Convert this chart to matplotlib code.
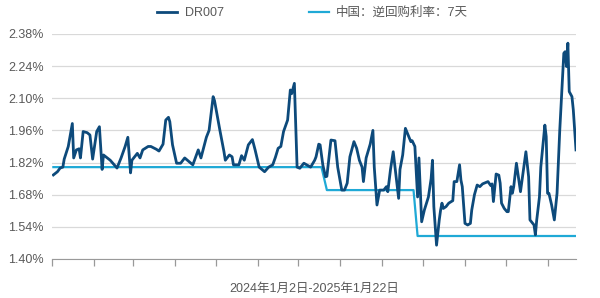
import matplotlib
matplotlib.use("Agg")
import matplotlib.pyplot as plt
import matplotlib.dates as mdates
import pandas as pd

plt.rcParams['font.family'] = ['Liberation Sans', 'Noto Sans CJK SC', 'DejaVu Sans']

# DR007
dr_dates = [
    "2024-01-02", "2024-01-05", "2024-01-07", "2024-01-09", "2024-01-10", "2024-01-13",
    "2024-01-16", "2024-01-17", "2024-01-19", "2024-01-21", "2024-01-22", "2024-01-24",
    "2024-01-27", "2024-01-29", "2024-01-31", "2024-02-03", "2024-02-05", "2024-02-07",
    "2024-02-08", "2024-02-13", "2024-02-18", "2024-02-21", "2024-02-24", "2024-02-26",
    "2024-02-28", "2024-02-29", "2024-03-04", "2024-03-06", "2024-03-08", "2024-03-12",
    "2024-03-14", "2024-03-18", "2024-03-20", "2024-03-23", "2024-03-25", "2024-03-27",
    "2024-03-28", "2024-03-30", "2024-04-02", "2024-04-05", "2024-04-08", "2024-04-10",
    "2024-04-14", "2024-04-18", "2024-04-20", "2024-04-24", "2024-04-26", "2024-04-29",
    "2024-04-30", "2024-05-04", "2024-05-07", "2024-05-08", "2024-05-11", "2024-05-13",
    "2024-05-14", "2024-05-18", "2024-05-20", "2024-05-22", "2024-05-25", "2024-05-28",
    "2024-05-30", "2024-06-02", "2024-06-06", "2024-06-09", "2024-06-12", "2024-06-14",
    "2024-06-16", "2024-06-18", "2024-06-20", "2024-06-23", "2024-06-25", "2024-06-26",
    "2024-06-28", "2024-06-30", "2024-07-02", "2024-07-05", "2024-07-07", "2024-07-10",
    "2024-07-13", "2024-07-14", "2024-07-16", "2024-07-17", "2024-07-19", "2024-07-21",
    "2024-07-22", "2024-07-25", "2024-07-28", "2024-07-30", "2024-08-02", "2024-08-04",
    "2024-08-06", "2024-08-08", "2024-08-11", "2024-08-13", "2024-08-15", "2024-08-17",
    "2024-08-18", "2024-08-20", "2024-08-23", "2024-08-25", "2024-08-26", "2024-08-28",
    "2024-08-30", "2024-09-02", "2024-09-04", "2024-09-05", "2024-09-07", "2024-09-09",
    "2024-09-10", "2024-09-13", "2024-09-14", "2024-09-16", "2024-09-18", "2024-09-20",
    "2024-09-22", "2024-09-23", "2024-09-25", "2024-09-27", "2024-09-28", "2024-09-30",
    "2024-10-02", "2024-10-05", "2024-10-07", "2024-10-08", "2024-10-09", "2024-10-11",
    "2024-10-13", "2024-10-14", "2024-10-15", "2024-10-16", "2024-10-18", "2024-10-20",
    "2024-10-23", "2024-10-24", "2024-10-26", "2024-10-28", "2024-10-29", "2024-10-30",
    "2024-11-01", "2024-11-03", "2024-11-05", "2024-11-06", "2024-11-08", "2024-11-10",
    "2024-11-12", "2024-11-14", "2024-11-18", "2024-11-20", "2024-11-21", "2024-11-22",
    "2024-11-24", "2024-11-26", "2024-11-27", "2024-11-28", "2024-11-30", "2024-12-02",
    "2024-12-03", "2024-12-05", "2024-12-06", "2024-12-07", "2024-12-09", "2024-12-12",
    "2024-12-16", "2024-12-18", "2024-12-19", "2024-12-22", "2024-12-23", "2024-12-24",
    "2024-12-26", "2024-12-27", "2024-12-30", "2024-12-31", "2025-01-01", "2025-01-02",
    "2025-01-04", "2025-01-06", "2025-01-08", "2025-01-10", "2025-01-13", "2025-01-14",
    "2025-01-15", "2025-01-16", "2025-01-17", "2025-01-19", "2025-01-20", "2025-01-22",
]
dr_values = [
    1.766, 1.78, 1.796, 1.80, 1.835, 1.89,
    1.99, 1.84, 1.875, 1.88, 1.84, 1.955,
    1.95, 1.94, 1.835, 1.955, 1.976, 1.79,
    1.853, 1.83, 1.796, 1.84, 1.89, 1.93,
    1.775, 1.83, 1.86, 1.84, 1.875, 1.89,
    1.89, 1.878, 1.87, 1.90, 2.005, 2.017,
    1.998, 1.897, 1.817, 1.817, 1.84, 1.83,
    1.81, 1.875, 1.84, 1.93, 1.96, 2.107,
    2.09, 1.96, 1.867, 1.83, 1.853, 1.845,
    1.81, 1.81, 1.85, 1.83, 1.897, 1.92,
    1.875, 1.80, 1.78, 1.80, 1.81, 1.843,
    1.882, 1.89, 1.955, 2.005, 2.136, 2.12,
    2.165, 1.80, 1.795, 1.817, 1.81, 1.80,
    1.83, 1.845, 1.90, 1.897, 1.81, 1.758,
    1.76, 1.918, 1.915, 1.80, 1.70, 1.70,
    1.73, 1.845, 1.911, 1.882, 1.83, 1.80,
    1.737, 1.84, 1.90, 1.96, 1.80, 1.635,
    1.70, 1.70, 1.715, 1.693, 1.79, 1.867,
    1.817, 1.664, 1.79, 1.853, 1.969, 1.94,
    1.911, 1.915, 1.89, 1.67, 1.84, 1.562,
    1.613, 1.67, 1.75, 1.83, 1.628, 1.46,
    1.57, 1.613, 1.643, 1.62, 1.628, 1.643,
    1.654, 1.737, 1.737, 1.81, 1.744, 1.715,
    1.555, 1.548, 1.555, 1.613, 1.68, 1.722,
    1.715, 1.727, 1.737, 1.72, 1.727, 1.65,
    1.77, 1.765, 1.73, 1.643, 1.62, 1.606,
    1.606, 1.715, 1.686, 1.715, 1.817, 1.693,
    1.867, 1.758, 1.57, 1.548, 1.505, 1.57,
    1.67, 1.80, 1.983, 1.933, 1.686, 1.686,
    1.635, 1.57, 1.686, 1.96, 2.296, 2.303,
    2.238, 2.34, 2.129, 2.107, 2.05, 1.875,
]

# 7-day reverse repo rate
rate_dates = ["2024-01-02", "2024-07-18", "2024-07-22", "2024-09-24", "2024-09-27", "2025-01-22"]
rate_values = [1.80, 1.80, 1.70, 1.70, 1.50, 1.50]

y_ticks = [1.40, 1.54, 1.68, 1.82, 1.96, 2.10, 2.24, 2.38]
series_names = ["DR007", "中国：逆回购利率：7天"]
x_label = "2024年1月2日-2025年1月22日"

dark_blue = "#0d4a7b"
light_blue = "#1fa9d6"
grey_text = "#595959"

fig = plt.figure(figsize=(6.0, 2.98), dpi=100)
ax = fig.add_axes([0.0867, 0.131, 0.8733, 0.755])

ax.plot(pd.to_datetime(dr_dates), dr_values, color=dark_blue, lw=2.0,
        label=series_names[0], zorder=3, solid_joinstyle='round')
ax.plot(pd.to_datetime(rate_dates), rate_values, color=light_blue, lw=1.6,
        label=series_names[1], zorder=2)

ax.set_ylim(1.40, 2.38)
ax.set_yticks(y_ticks)
ax.set_yticklabels([f"{v:.2f}%" for v in y_ticks], color=grey_text, fontsize=9)
ax.set_xlim(pd.Timestamp("2024-01-01"), pd.Timestamp("2025-01-22"))
ax.xaxis.set_major_locator(mdates.MonthLocator())
ax.xaxis.set_major_formatter(plt.NullFormatter())

ax.grid(axis='y', color="#d9d9d9", lw=0.9)
ax.set_axisbelow(True)
for side in ['left', 'right', 'top']:
    ax.spines[side].set_visible(False)
ax.spines['bottom'].set_color("#999999")
ax.tick_params(axis='x', length=5, color="#999999", width=0.9)
ax.tick_params(axis='y', length=0, pad=6)

ax.set_xlabel(x_label, color=grey_text, fontsize=9, labelpad=9)

fig.legend(loc='center left', bbox_to_anchor=(0.262, 0.956), ncol=2, frameon=False,
           fontsize=9, handlelength=1.6, handletextpad=0.6, columnspacing=6.8,
           borderpad=0, borderaxespad=0, labelcolor=grey_text)

fig.savefig("out.png", dpi=100)
